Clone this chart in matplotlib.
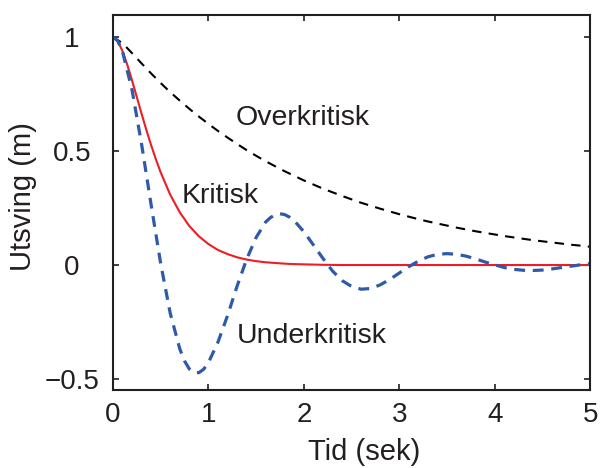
import matplotlib
matplotlib.use('Agg')
import matplotlib.pyplot as plt

# ---------------------- DATA

tid = [0.0, 0.1, 0.2, 0.3, 0.4, 0.5, 0.6, 0.7, 0.8, 0.9,
       1.0, 1.1, 1.2, 1.3, 1.4, 1.5, 1.6, 1.7, 1.8, 1.9,
       2.0, 2.1, 2.2, 2.3, 2.4, 2.5, 2.6, 2.7, 2.8, 2.9,
       3.0, 3.1, 3.2, 3.3, 3.4, 3.5, 3.6, 3.7, 3.8, 3.9,
       4.0, 4.1, 4.2, 4.3, 4.4, 4.5, 4.6, 4.7, 4.8, 4.9, 5.0]

overkritisk = [1.000, 0.973, 0.929, 0.884, 0.840, 0.798, 0.758, 0.721, 0.685, 0.651,
               0.619, 0.588, 0.559, 0.531, 0.504, 0.479, 0.455, 0.433, 0.411, 0.391,
               0.371, 0.353, 0.335, 0.319, 0.303, 0.288, 0.273, 0.260, 0.247, 0.235,
               0.223, 0.212, 0.201, 0.191, 0.182, 0.173, 0.164, 0.156, 0.148, 0.141,
               0.134, 0.127, 0.121, 0.115, 0.109, 0.104, 0.099, 0.094, 0.089, 0.085, 0.080]

# critical curve, finer near the start where it bends
tid_kritisk = [0.0, 0.05, 0.1, 0.15, 0.2, 0.25, 0.3, 0.35, 0.4, 0.45, 0.5, 0.6, 0.7, 0.8, 0.9,
               1.0, 1.1, 1.2, 1.3, 1.4, 1.5, 1.6, 1.7, 1.8, 1.9, 2.0, 2.2, 2.4, 3.0, 4.0, 5.0]
kritisk = [1.000, 0.982, 0.938, 0.878, 0.809, 0.736, 0.663, 0.592, 0.525, 0.463, 0.406, 0.308,
           0.231, 0.171, 0.126, 0.092, 0.066, 0.048, 0.034, 0.024, 0.017, 0.012, 0.009,
           0.006, 0.004, 0.003, 0.001, 0.000, 0.000, 0.000, 0.000]

tid_under = [0.0, 0.05, 0.1, 0.2, 0.3, 0.4, 0.5, 0.6, 0.7, 0.75, 0.8, 0.85, 0.9, 0.95,
             1.0, 1.1, 1.2, 1.3, 1.4, 1.5, 1.6, 1.65, 1.7, 1.75, 1.8, 1.85, 1.9,
             2.0, 2.1, 2.2, 2.3, 2.4, 2.5, 2.6, 2.7, 2.8, 2.9,
             3.0, 3.1, 3.2, 3.3, 3.4, 3.5, 3.6, 3.7, 3.8, 3.9,
             4.0, 4.1, 4.2, 4.3, 4.4, 4.5, 4.6, 4.7, 4.8, 4.9, 5.0]
underkritisk = [1.000, 0.983, 0.936, 0.767, 0.529, 0.263, 0.006, -0.212, -0.368, -0.421, -0.456,
                -0.472, -0.472, -0.457, -0.428, -0.338, -0.222, -0.093, 0.025, 0.121, 0.189,
                0.208, 0.221, 0.225, 0.221, 0.210, 0.194,
                0.146, 0.088, 0.029, -0.026, -0.068, -0.094, -0.106, -0.103, -0.087, -0.063,
                -0.035, -0.007, 0.017, 0.036, 0.047, 0.050, 0.047, 0.039, 0.027, 0.013,
                0.001, -0.011, -0.019, -0.023, -0.024, -0.022, -0.017, -0.011, -0.005, 0.001, 0.006]

xticks = [0, 1, 2, 3, 4, 5]
yticks = [-0.5, 0, 0.5, 1]
yticklabels = ['\u22120.5', '0', '0.5', '1']

# ---------------------- FIGURE

plt.rcParams['font.family'] = ['Liberation Sans', 'DejaVu Sans']
ink = '#231f20'

fig = plt.figure(figsize=(6.01, 4.68), dpi=100)
ax = fig.add_axes([0.188, 0.1667, 0.794, 0.801])

ax.plot(tid, overkritisk, color='black', lw=1.5, linestyle=(0, (4.5, 3.5)))
ax.plot(tid_kritisk, kritisk, color='#ee1c24', lw=1.5)
ax.plot(tid_under, underkritisk, color='#2e5aa8', lw=2.3, linestyle=(0, (3.4, 2.4)))

ax.text(1.28, 0.614, 'Overkritisk', fontsize=20.5, color=ink, va='baseline')
ax.text(0.72, 0.272, 'Kritisk', fontsize=20.5, color=ink, va='baseline')
ax.text(1.30, -0.342, 'Underkritisk', fontsize=20.5, color=ink, va='baseline')

ax.set_xlim(0, 5)
ax.set_ylim(-0.548, 1.096)
ax.set_xticks(xticks)
ax.set_yticks(yticks)
ax.set_yticklabels(yticklabels, ha='center')

ax.tick_params(direction='in', length=4, width=1.2, color=ink, labelcolor=ink,
               labelsize=20, top=True, right=True)
ax.tick_params(axis='x', pad=9)
ax.tick_params(axis='y', pad=29.5)

for s in ax.spines.values():
    s.set_linewidth(1.5)
    s.set_color(ink)

ax.set_xlabel('Tid (sek)', fontsize=21, color=ink)
ax.set_ylabel('Utsving (m)', fontsize=21, color=ink)
ax.xaxis.set_label_coords(0.526, -0.128)
ax.yaxis.set_label_coords(-0.16, 0.516)

fig.savefig('out.png', dpi=100)
plt.close()
